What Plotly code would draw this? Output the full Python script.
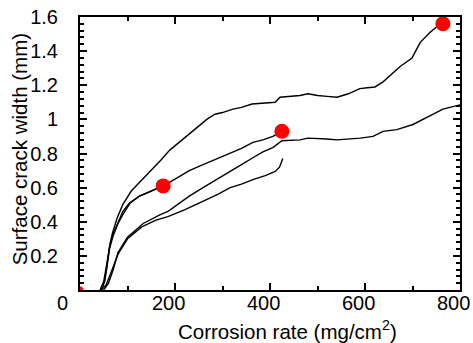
import plotly.graph_objects as go

# Curve data (corrosion rate mg/cm2, crack width mm)
a_x = [45, 52, 57, 62, 68, 78, 90, 108, 125, 150, 170, 189, 210, 232, 250, 267, 284, 300, 322, 340, 362, 390, 411, 421, 440, 463, 480, 500, 520, 541, 565, 589, 605, 621, 638, 655, 674, 699, 716, 737, 754, 764]
a_y = [0.0, 0.06, 0.15, 0.25, 0.33, 0.42, 0.50, 0.58, 0.63, 0.70, 0.76, 0.82, 0.87, 0.92, 0.96, 1.00, 1.03, 1.04, 1.06, 1.07, 1.09, 1.095, 1.10, 1.13, 1.135, 1.14, 1.15, 1.14, 1.135, 1.13, 1.15, 1.18, 1.185, 1.19, 1.22, 1.26, 1.31, 1.36, 1.45, 1.51, 1.55, 1.56]

b_x = [45, 52, 57, 62, 70, 80, 92, 106, 125, 150, 175, 200, 230, 259, 290, 316, 340, 364, 385, 406, 425]
b_y = [0.0, 0.05, 0.14, 0.24, 0.32, 0.39, 0.45, 0.51, 0.55, 0.58, 0.61, 0.65, 0.70, 0.735, 0.77, 0.80, 0.83, 0.865, 0.88, 0.90, 0.93]

e_x = [42, 50, 55, 60, 64, 70, 80, 90, 104, 125, 150, 175]
e_y = [0.0, 0.05, 0.13, 0.22, 0.28, 0.33, 0.40, 0.46, 0.51, 0.55, 0.58, 0.61]

c_x = [50, 60, 70, 80, 100, 133, 168, 185, 200, 230, 259, 290, 316, 340, 364, 385, 406, 425, 463, 480, 520, 541, 590, 617, 638, 667, 701, 737, 764, 800]
c_y = [0.0, 0.04, 0.12, 0.22, 0.31, 0.39, 0.44, 0.46, 0.49, 0.55, 0.60, 0.65, 0.695, 0.735, 0.775, 0.81, 0.835, 0.875, 0.88, 0.89, 0.885, 0.88, 0.89, 0.90, 0.93, 0.94, 0.97, 1.02, 1.06, 1.085]

d_x = [45, 55, 65, 80, 100, 130, 160, 185, 220, 259, 290, 316, 340, 364, 390, 411, 420, 427]
d_y = [0.0, 0.03, 0.10, 0.21, 0.30, 0.37, 0.41, 0.43, 0.47, 0.52, 0.56, 0.60, 0.62, 0.647, 0.67, 0.695, 0.72, 0.77]

dot_x = [175, 425, 764]
dot_y = [0.61, 0.93, 1.56]
origin_x = [0]
origin_y = [0.0]

x_ticks = [0, 200, 400, 600, 800]
x_labels = ["0", "200", "400", "600", "800"]
y_ticks = [0.2, 0.4, 0.6, 0.8, 1.0, 1.2, 1.4, 1.6]
y_labels = ["0.2", "0.4", "0.6", "0.8", "1", "1.2", "1.4", "1.6"]

fig = go.Figure()
for xs, ys in [(a_x, a_y), (b_x, b_y), (e_x, e_y), (c_x, c_y), (d_x, d_y)]:
    fig.add_trace(go.Scatter(x=xs, y=ys, mode="lines",
                             line=dict(color="black", width=1.4), showlegend=False))
fig.add_trace(go.Scatter(x=dot_x, y=dot_y, mode="markers",
                         marker=dict(color="#ff0000", size=15, line=dict(width=0)),
                         showlegend=False))
fig.add_trace(go.Scatter(x=origin_x, y=origin_y, mode="markers",
                         marker=dict(color="#ff0000", size=7, line=dict(width=0)),
                         showlegend=False))

tick_font = dict(family="Liberation Sans, Arial, sans-serif", size=20, color="black")
title_font = dict(family="Liberation Sans, Arial, sans-serif", size=20.5, color="black")

annotations = []
for v, lab in zip(x_ticks, x_labels):
    annotations.append(dict(text=lab, x=v, xref="x", y=0, yref="y",
                            xanchor="center", yanchor="middle",
                            xshift=(-18 if v == 0 else -7), yshift=-13,
                            showarrow=False, font=tick_font))
annotations += [
    dict(text="Corrosion rate (mg/cm<sup>2</sup>)", xref="paper", yref="paper",
         x=0.547, y=-0.147, xanchor="center", yanchor="middle", showarrow=False,
         font=title_font),
    dict(text="Surface crack width (mm)", xref="paper", yref="paper",
         x=-0.16, y=0.516, xanchor="center", yanchor="middle", textangle=-90,
         showarrow=False, font=title_font),
]

fig.update_layout(
    width=473, height=343,
    margin=dict(l=80, r=13, t=17, b=53, autoexpand=False),
    paper_bgcolor="white", plot_bgcolor="white",
    font=tick_font,
    hovermode=False,
    xaxis=dict(range=[0, 800], tickvals=x_ticks[1:], showticklabels=False,
               automargin=False, showgrid=False, zeroline=False,
               showline=True, linewidth=2, linecolor="black", mirror="ticks",
               ticks="inside", ticklen=7, tickwidth=1.5, tickcolor="black",
               minor=dict(tickvals=[100, 300, 500, 700], ticks="inside", ticklen=4,
                          tickwidth=1.5, tickcolor="black")),
    yaxis=dict(range=[0, 1.6], tickvals=y_ticks, ticktext=y_labels, showgrid=False,
               automargin=False, zeroline=False, showline=True, linewidth=2,
               linecolor="black", mirror="ticks", ticks="inside", ticklen=7,
               tickwidth=1.5, tickcolor="black", ticklabelstandoff=16,
               ticklabeloverflow="allow",
               minor=dict(dtick=0.04, ticks="inside", ticklen=4, tickwidth=1.5,
                          tickcolor="black")),
    annotations=annotations,
)
fig.write_html("out.html", config={"displayModeBar": False},
               post_script="document.body.style.margin='0';document.body.style.overflow='hidden';")
